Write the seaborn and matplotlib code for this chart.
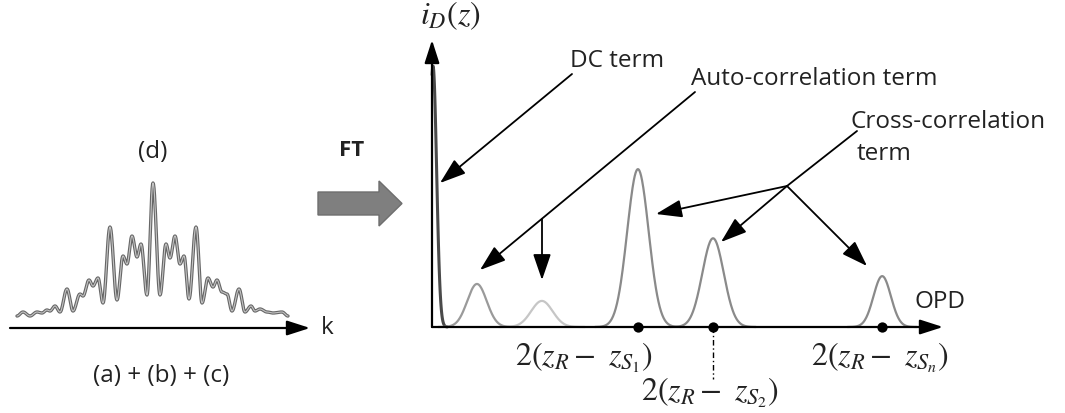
import numpy as np
import matplotlib
matplotlib.use("Agg")
import matplotlib.pyplot as plt
import matplotlib.patches as mpatches
import seaborn as sns

sns.set_theme(style="white")
plt.rcParams["font.family"] = ["Open Sans", "DejaVu Sans"]
plt.rcParams["mathtext.fontset"] = "stix"

# ---- interferogram (d): extrema of the fringe signal along k ----
k_pts = [7, 13, 20, 27, 32, 37, 40, 45, 50, 57, 63, 70, 73, 79, 83, 88, 93,
         100, 107, 113, 117, 122, 127, 131, 137, 143, 150, 156, 160, 165, 170,
         174, 179, 186, 192, 198, 203, 207, 212, 217, 222, 229, 235, 241, 245,
         250, 257, 263, 272, 278]
amp_pts = [12, 16, 12, 16, 15, 18, 17, 22, 16, 39, 17, 34, 32, 48, 42, 50, 25,
           101, 28, 72, 64, 92, 71, 84, 33, 145, 33, 84, 70, 92, 64, 72, 29,
           101, 25, 50, 41, 48, 36, 34, 17, 39, 16, 22, 17, 19, 16, 15, 16, 12]

# ---- A-scan i_D(z): peaks along OPD ----
dc_pos, dc_height, dc_width = 0.02, 1.0, 0.07
auto_pos = [0.88, 2.15]
auto_height = [0.165, 0.10]
auto_width = [0.19, 0.21]
cross_pos = [4.03, 5.50, 8.81]
cross_height = [0.605, 0.34, 0.195]
cross_width = [0.21, 0.21, 0.17]

W, H = 1065, 414
fig = plt.figure(figsize=(W / 100, H / 100), dpi=100)
fig.patch.set_facecolor("white")


def px_axes(x0, x1, ytop, ybot, **kw):
    """Axes occupying a pixel box of the figure."""
    return fig.add_axes([x0 / W, (H - ybot) / H, (x1 - x0) / W, (ybot - ytop) / H], **kw)


def smooth_through(xs, ys, n=14):
    """Half-cosine easing between successive extrema."""
    gx, gy = [], []
    for i in range(len(xs) - 1):
        t = np.linspace(0, 1, n, endpoint=False)
        gx.extend(xs[i] + (xs[i + 1] - xs[i]) * t)
        gy.extend(ys[i] + (ys[i + 1] - ys[i]) * (1 - np.cos(np.pi * t)) / 2)
    gx.append(xs[-1]); gy.append(ys[-1])
    return np.array(gx), np.array(gy)


def gauss(c, h, s):
    x = np.linspace(c - 4 * s, c + 4 * s, 200)
    return x, h * np.exp(-0.5 * ((x - c) / s) ** 2)


axis_arrow = dict(arrowstyle="-|>,head_length=1.4,head_width=0.45",
                  color="black", lw=1.6, shrinkA=0, shrinkB=0, mutation_scale=10)

# ---------------- left panel: interferogram ----------------
axl = px_axes(10, 310, 170, 329)
axl.set_xlim(0, 300)
axl.set_ylim(0, 159)
axl.axis("off")
gx, gy = smooth_through(k_pts, amp_pts)
sns.lineplot(x=gx, y=gy, ax=axl, color="#666666", lw=2.4, sort=False,
             estimator=None, clip_on=False)
sns.lineplot(x=gx, y=gy, ax=axl, color="#c4c4c4", lw=0.8, sort=False,
             estimator=None, clip_on=False)
axl.annotate("", xy=(1, 0), xytext=(0, 0), xycoords="axes fraction",
             arrowprops=axis_arrow, annotation_clip=False)

# ---------------- right panel: A-scan ----------------
axr = px_axes(432, 943, 41, 328)
axr.set_xlim(0, 10)
axr.set_ylim(0, 1.1)
axr.axis("off")

x, y = gauss(dc_pos, dc_height, dc_width)
m = x >= 0
sns.lineplot(x=x[m], y=y[m], ax=axr, color="#4a4a4a", lw=2.2, clip_on=False)
for c, h, s, col in zip(auto_pos, auto_height, auto_width, ["#9a9a9a", "#c6c6c6"]):
    x, y = gauss(c, h, s)
    sns.lineplot(x=x, y=y, ax=axr, color=col, lw=1.6, clip_on=False)
for c, h, s in zip(cross_pos, cross_height, cross_width):
    x, y = gauss(c, h, s)
    sns.lineplot(x=x, y=y, ax=axr, color="#8a8a8a", lw=1.6, clip_on=False)

axr.annotate("", xy=(1, 0), xytext=(0, 0), xycoords="axes fraction",
             arrowprops=axis_arrow, annotation_clip=False)
axr.annotate("", xy=(0, 1), xytext=(0, 0), xycoords="axes fraction",
             arrowprops=axis_arrow, annotation_clip=False)
sns.scatterplot(x=cross_pos, y=[0] * len(cross_pos), ax=axr, color="black",
                s=55, edgecolor="black", linewidth=0, clip_on=False, zorder=5)
axr.plot([cross_pos[1]] * 2, [0, -0.2], color="black", lw=1.0,
         ls=(0, (4, 2, 1, 2)), clip_on=False)

# ---------------- overlay: labels and pointers ----------------
ov = fig.add_axes([0, 0, 1, 1], zorder=5)
ov.set_xlim(0, W)
ov.set_ylim(H, 0)
ov.axis("off")
ov.patch.set_alpha(0)

txt = dict(fontsize=17.5, color="#222222")
ov.text(153, 152, "(d)", ha="center", va="center", **txt)
ov.text(161, 376, "(a) + (b) + (c)", ha="center", va="center", **txt)
ov.text(327, 328, "k", ha="center", va="center", **txt)
ov.text(352, 151, "FT", ha="center", va="center", fontsize=16,
        fontweight="bold", color="#222222")
ov.text(940, 302, "OPD", ha="center", va="center", **txt)
ov.text(570, 67, "DC term", ha="left", va="baseline", **txt)
ov.text(691, 85, "Auto-correlation term", ha="left", va="baseline", **txt)
ov.text(850, 128, "Cross-correlation", ha="left", va="baseline", **txt)
ov.text(857, 160, "term", ha="left", va="baseline", **txt)

mt = dict(fontsize=23, color="#222222", ha="center", va="center")
ov.text(450, 16, r"$i_D(z)$", **mt)
ov.text(584, 358, r"$2(z_R -\ z_{S_1})$", **mt)
ov.text(710, 393, r"$2(z_R -\ z_{S_2})$", **mt)
ov.text(880, 358, r"$2(z_R -\ z_{S_n})$", **mt)

# FT block arrow
ov.add_patch(mpatches.FancyArrow(318, 204.5, 84, 0, width=23, head_width=45,
                                 head_length=23, length_includes_head=True,
                                 fc="#7f7f7f", ec="#6e6e6e", lw=1))

ptr = dict(arrowstyle="-|>,head_length=1.6,head_width=0.55", color="black",
           lw=1.3, shrinkA=0, shrinkB=0, mutation_scale=10)
pointers = [
    ((572, 75), (440, 184)),       # DC term
    ((695, 93), (480, 271)),       # auto-correlation, first peak
    ((542, 220), (542, 281)),      # auto-correlation, second peak
    ((857, 132), (787, 187)),      # cross-correlation stem
    ((787, 187), (656, 215)),
    ((787, 187), (721, 243)),
    ((787, 187), (867, 267)),
]
for start, tip in pointers[:3] + pointers[4:]:
    ov.annotate("", xy=tip, xytext=start, arrowprops=ptr)
s0, s1 = pointers[3]
ov.plot([s0[0], s1[0]], [s0[1], s1[1]], color="black", lw=1.3)

fig.savefig("out.png", dpi=100, facecolor="white")
